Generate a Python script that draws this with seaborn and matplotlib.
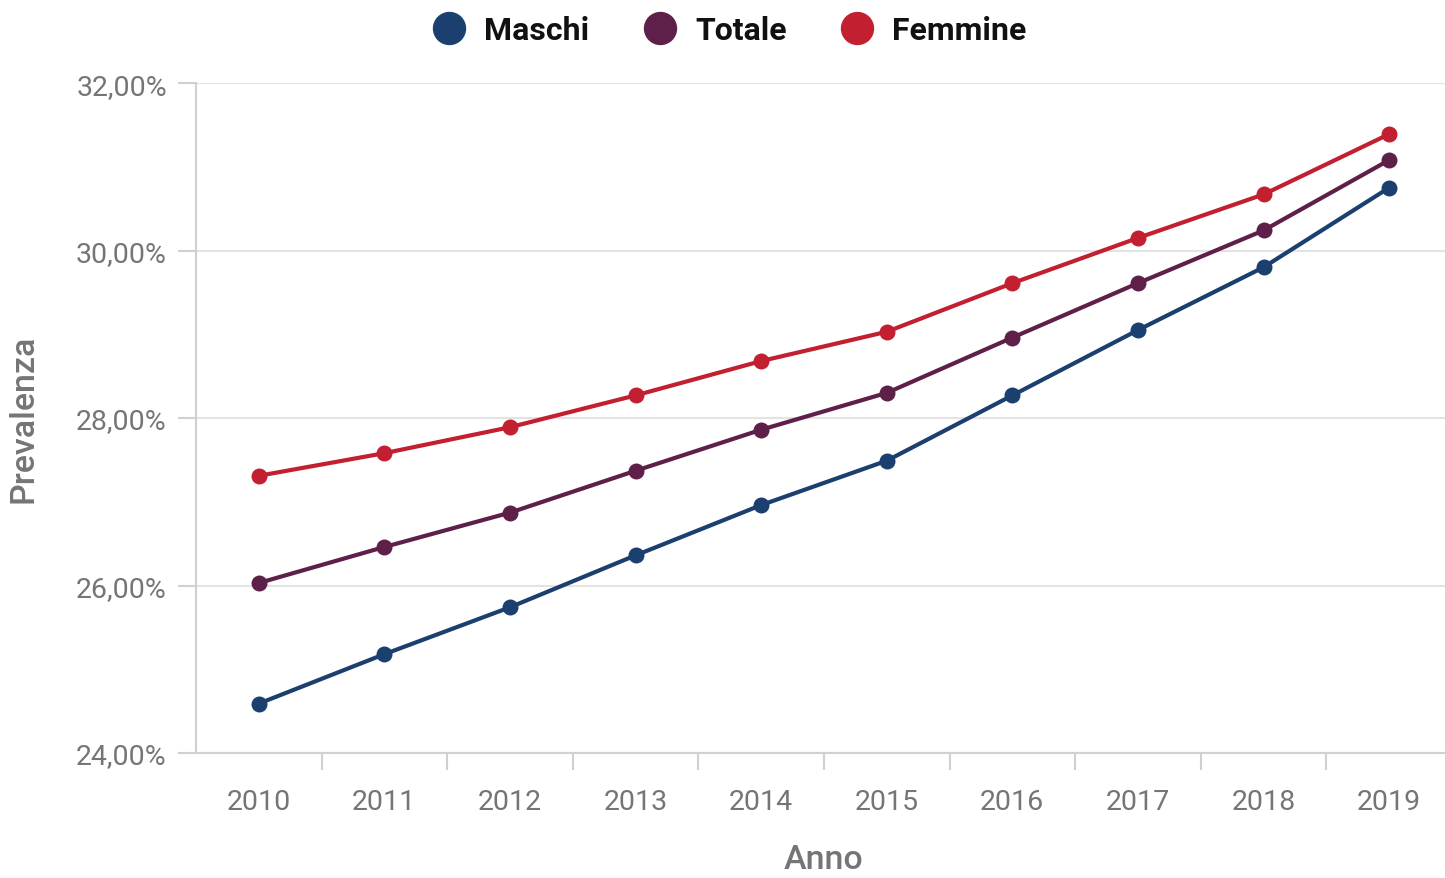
import pandas as pd
import numpy as np
import matplotlib
matplotlib.use("Agg")
import matplotlib.pyplot as plt
import seaborn as sns

# --------------------------------------------
# DATA
# --------------------------------------------
anni = ["2010", "2011", "2012", "2013", "2014", "2015", "2016", "2017", "2018", "2019"]
maschi = [24.59, 25.18, 25.74, 26.36, 26.96, 27.49, 28.27, 29.05, 29.80, 30.75]
totale = [26.03, 26.46, 26.87, 27.37, 27.86, 28.30, 28.96, 29.61, 30.24, 31.08]
femmine = [27.31, 27.58, 27.89, 28.27, 28.68, 29.03, 29.61, 30.15, 30.67, 31.39]
serie = ["Maschi", "Totale", "Femmine"]
colori = ["#1b3f6e", "#5e2049", "#c21f30"]
y_ticks = [24, 26, 28, 30, 32]

df = pd.DataFrame({
    "Anno": anni * 3,
    "Prevalenza": maschi + totale + femmine,
    "Serie": [s for s in serie for _ in anni],
})

# --------------------------------------------
# STYLE
# --------------------------------------------
sns.set_theme(style="white")
plt.rcParams["font.family"] = ["Roboto", "DejaVu Sans"]
grigio = "#757575"
linea = "#d0d0d0"

fig = plt.figure(figsize=(14.45, 8.79), dpi=100)
ax = fig.add_axes([0.1356, 0.1422, 0.8692, 0.7622])

sns.lineplot(
    data=df, x="Anno", y="Prevalenza", hue="Serie",
    palette=colori, hue_order=serie,
    marker="o", markersize=11.5, markeredgewidth=0,
    linewidth=3, ax=ax, legend=False, sort=False,
)

ax.set_xlim(-0.5, 9.5)
ax.set_ylim(24, 32)
ax.set_yticks(y_ticks)
ax.set_yticklabels([f"{v:.2f}".replace(".", ",") + "%" for v in y_ticks])
ax.yaxis.grid(True, color="#e3e3e3", linewidth=1.5)
ax.xaxis.grid(False)

# ticks on category boundaries
ax.set_xticks(np.arange(0.5, 9, 1), minor=True)
ax.tick_params(axis="x", which="major", length=0, pad=25, labelsize=20.5, labelcolor=grigio)
ax.tick_params(axis="x", which="minor", length=12, width=1.5, color=linea, bottom=True)
ax.tick_params(axis="y", which="major", length=13, width=1.5, color=linea, left=True,
               pad=8, labelsize=20.5, labelcolor=grigio)

for side in ["top", "right"]:
    ax.spines[side].set_visible(False)
for side in ["left", "bottom"]:
    ax.spines[side].set_color(linea)
    ax.spines[side].set_linewidth(1.5)

ax.set_xlabel("Anno", fontsize=24.5, color=grigio, fontweight="medium", labelpad=20)
ax.set_ylabel("Prevalenza", fontsize=24.5, color=grigio, fontweight="medium", labelpad=26)

# legend
handles = [plt.Line2D([], [], marker="o", linestyle="", markersize=23, color=c) for c in colori]
fig.legend(handles, serie, loc="center", bbox_to_anchor=(0.505, 0.965), ncol=3,
           frameon=False, prop={"size": 23, "weight": "bold"}, handlelength=1.0,
           handletextpad=0.6, columnspacing=1.7, labelcolor="#111111")

fig.savefig("out.png", dpi=100)
